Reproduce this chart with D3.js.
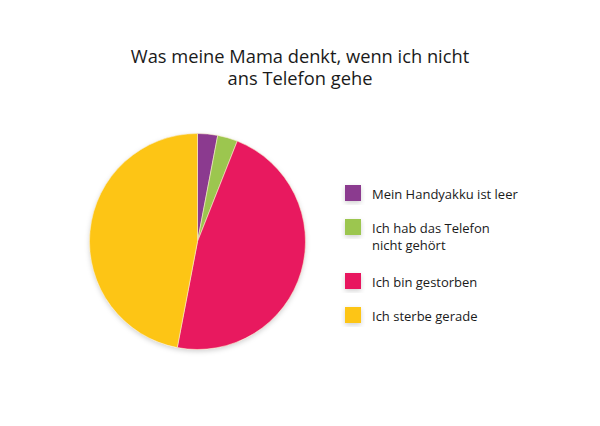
<!DOCTYPE html>
<html>
<head>
<meta charset="utf-8">
<script src="https://cdn.jsdelivr.net/npm/d3@7"></script>
<style>
  html, body { margin: 0; padding: 0; background: #ffffff; }
  svg { display: block; }
  text { font-family: "Open Sans", "Noto Sans", sans-serif; fill: #1a1a1a; }
</style>
</head>
<body>
<svg id="chart" width="600" height="426"></svg>
<script>
const titleLines = ["Was meine Mama denkt, wenn ich nicht", "ans Telefon gehe"];
const categories = ["Mein Handyakku ist leer", "Ich hab das Telefon nicht gehört", "Ich bin gestorben", "Ich sterbe gerade"];
const legendLines = [["Mein Handyakku ist leer"], ["Ich hab das Telefon", "nicht gehört"], ["Ich bin gestorben"], ["Ich sterbe gerade"]];
const values = [3, 3, 47, 47];
const colors = ["#8b3a8f", "#9cc64f", "#e8195f", "#fdc515"];

const svg = d3.select("#chart");

const defs = svg.append("defs");
const f = defs.append("filter").attr("id", "shadow").attr("x", "-20%").attr("y", "-20%").attr("width", "140%").attr("height", "140%");
f.append("feDropShadow").attr("dx", 0).attr("dy", 2).attr("stdDeviation", 2.5).attr("flood-color", "#000").attr("flood-opacity", 0.18);

// Title
svg.append("g").selectAll("text").data(titleLines).join("text")
  .attr("x", 300)
  .attr("y", (d, i) => 63 + i * 22)
  .attr("text-anchor", "middle")
  .attr("font-size", 18.3)
  .text(d => d);

// Pie
const cx = 197.5, cy = 241.5, r = 108;
const pie = d3.pie().sort(null).value(d => d);
const arc = d3.arc().innerRadius(0).outerRadius(r);
const color = d3.scaleOrdinal().domain(categories).range(colors);

const g = svg.append("g").attr("transform", `translate(${cx},${cy})`);
g.append("circle").attr("r", r).attr("fill", "#fff").attr("filter", "url(#shadow)");
g.selectAll("path").data(pie(values)).join("path")
  .attr("d", arc)
  .attr("fill", (d, i) => color(categories[i]))
  .attr("stroke", "#f6e9c8")
  .attr("stroke-width", 0.6);

// Legend
const legendY = [185, 219, 273, 307];
const lg = svg.append("g").attr("transform", "translate(345,0)");
const items = lg.selectAll("g").data(categories).join("g")
  .attr("transform", (d, i) => `translate(0,${legendY[i]})`);
items.append("rect")
  .attr("width", 16).attr("height", 16)
  .attr("fill", d => color(d))
  .attr("filter", "url(#shadow)");
items.each(function(d, i) {
  d3.select(this).selectAll("text").data(legendLines[i]).join("text")
    .attr("x", 27)
    .attr("y", (t, j) => 14 + j * 17)
    .attr("font-size", 13)
    .text(t => t);
});
</script>
</body>
</html>
